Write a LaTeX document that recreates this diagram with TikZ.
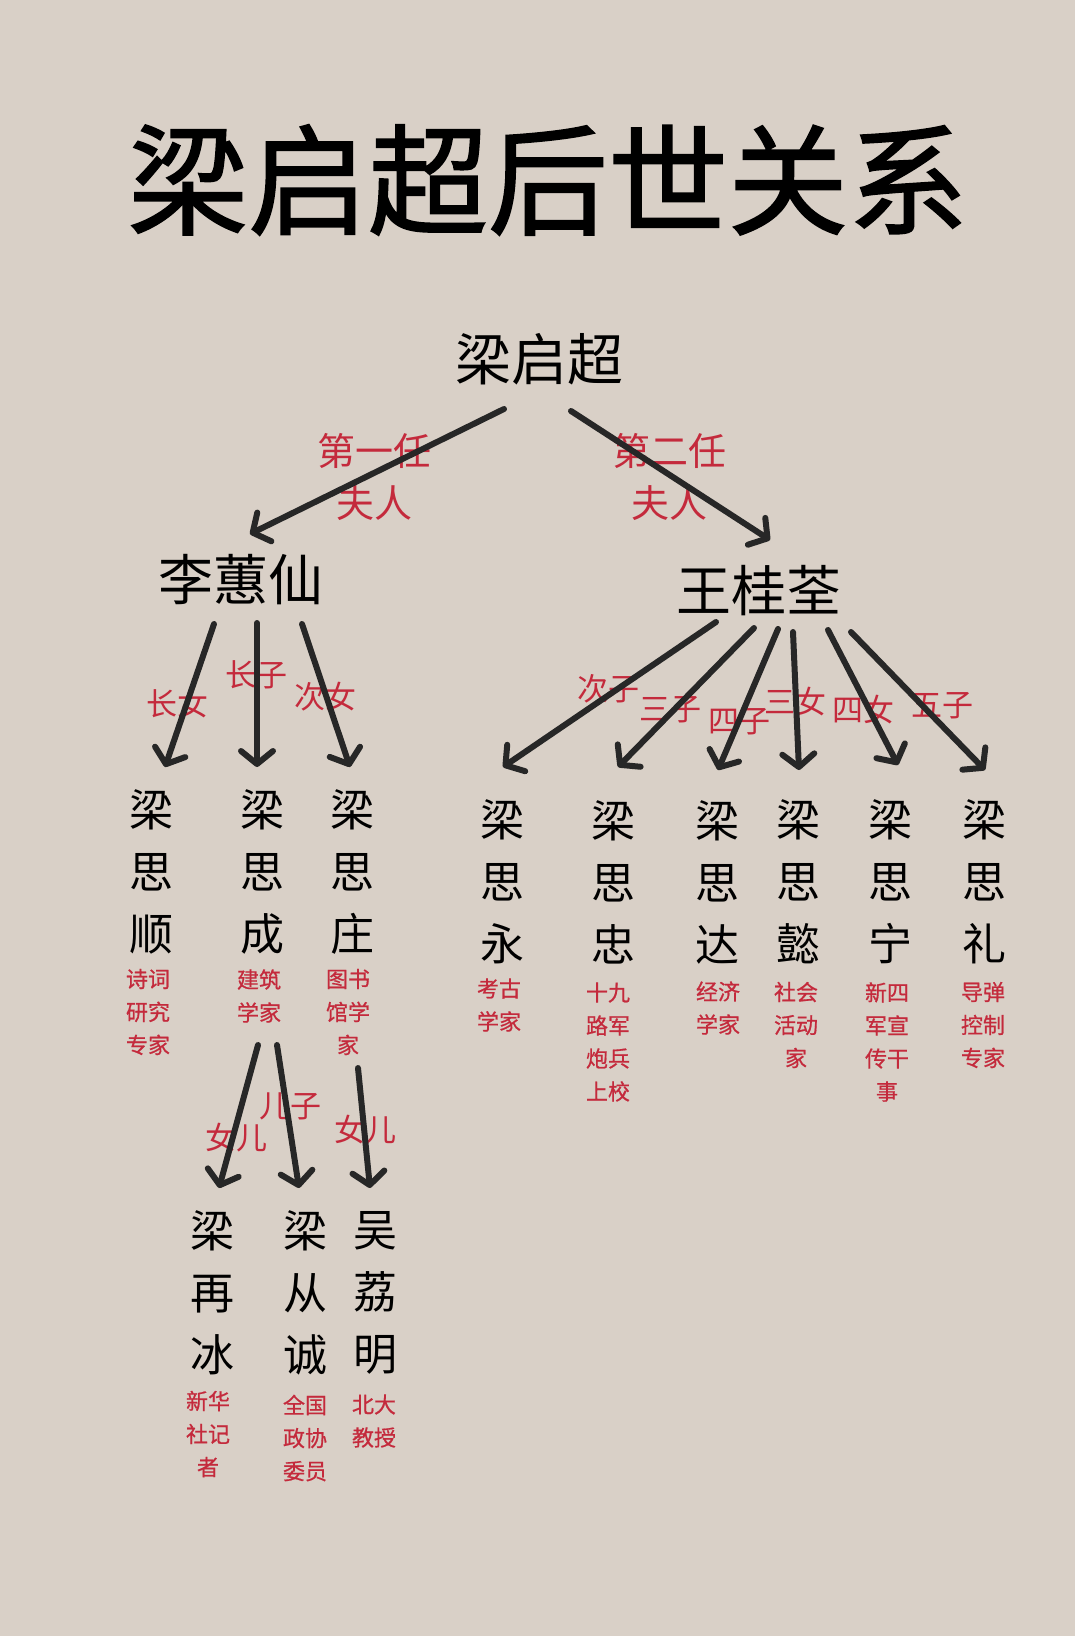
\documentclass[tikz,border=0pt]{standalone}
\usepackage{fontspec}
\setmainfont{Noto Sans CJK SC}
\newfontfamily\titlefont[FakeBold=1.4]{Noto Sans CJK SC}
\newfontfamily\redfont[FakeBold=0.7]{Noto Sans CJK SC}
\usetikzlibrary{arrows.meta}
\definecolor{paper}{HTML}{D9D0C7}
\definecolor{ink}{HTML}{272727}
\definecolor{redtxt}{HTML}{C42A3C}

\begin{document}
\begin{tikzpicture}[x=1pt, y=-1pt,
  name node/.style={font=\fontsize{44}{62}\selectfont, align=center, inner sep=0pt, text=black},
  job node/.style={font=\redfont\fontsize{22}{33}\selectfont, align=center, inner sep=0pt, text=redtxt},
  tag node/.style={font=\fontsize{31}{52}\selectfont, align=center, inner sep=0pt, text=redtxt},
  arr/.style={color=ink, line width=6pt, line cap=round, -{Straight Barb[round, length=13pt, width=32pt, line width=6pt]}}]

\useasboundingbox (0,0) rectangle (1075,1636);
\fill[paper] (0,0) rectangle (1075,1636);

% title
\node[inner sep=0pt] (title) at (548,180) {\titlefont\fontsize{120}{120}\selectfont 梁启超后世关系};

% top
\node[inner sep=0pt, font=\fontsize{56}{60}\selectfont] (n0) at (539,359) {梁启超};

% wives
\node[inner sep=0pt, font=\fontsize{55}{60}\selectfont] (n1) at (241,580) {李蕙仙};
\node[inner sep=0pt, font=\fontsize{55}{60}\selectfont] (n2) at (759,591) {王桂荃};

% children of n1
\node[name node] (n3) at (151,872) {梁\\思\\顺};
\node[name node] (n4) at (262,872) {梁\\思\\成};
\node[name node] (n5) at (352,872) {梁\\思\\庄};

% children of n2
\node[name node] (n6) at (502,882) {梁\\思\\永};
\node[name node] (n7) at (613,882) {梁\\思\\忠};
\node[name node] (n8) at (717,882) {梁\\思\\达};
\node[name node] (n9) at (798,882) {梁\\思\\懿};
\node[name node] (n10) at (890,882) {梁\\思\\宁};
\node[name node] (n11) at (984,882) {梁\\思\\礼};

% grandchildren
\node[name node] (n12) at (212,1293) {梁\\再\\冰};
\node[name node] (n13) at (305,1293) {梁\\从\\诚};
\node[name node] (n14) at (375,1293) {吴\\荔\\明};

% jobs
\node[job node] (j3) at (148,1012) {诗词\\研究\\专家};
\node[job node] (j4) at (259,996) {建筑\\学家};
\node[job node] (j5) at (348,1012) {图书\\馆学\\家};
\node[job node] (j6) at (499,1005) {考古\\学家};
\node[job node] (j7) at (608,1042) {十九\\路军\\炮兵\\上校};
\node[job node] (j8) at (718,1008) {经济\\学家};
\node[job node] (j9) at (796,1025) {社会\\活动\\家};
\node[job node] (j10) at (887,1042) {新四\\军宣\\传干\\事};
\node[job node] (j11) at (983,1025) {导弹\\控制\\专家};
\node[job node] (j12) at (208,1434) {新华\\社记\\者};
\node[job node] (j13) at (305,1438) {全国\\政协\\委员};
\node[job node] (j14) at (374,1421) {北大\\教授};

% relation tags
\node[tag node, font=\fontsize{38}{52}\selectfont] (r1) at (374,477) {第一任\\夫人};
\node[tag node, font=\fontsize{38}{52}\selectfont] (r2) at (669,477) {第二任\\夫人};
\node[tag node] (r3) at (177,704) {长女};
\node[tag node] (r4) at (256,675) {长子};
\node[tag node] (r5) at (325,697) {次女};
\node[tag node] (r6) at (608,689) {次子};
\node[tag node] (r7) at (670,710) {三子};
\node[tag node] (r8) at (739,722) {四子};
\node[tag node] (r9) at (795,702) {三女};
\node[tag node] (r10) at (863,710) {四女};
\node[tag node] (r11) at (942,706) {五子};
\node[tag node] (r12) at (236,1138) {女儿};
\node[tag node] (r13) at (290,1106) {儿子};
\node[tag node] (r14) at (365,1130) {女儿};

% arrow ends
\coordinate (s1) at (504,409);   \coordinate (t1) at (250,534);
\coordinate (s2) at (571,411);   \coordinate (t2) at (770,540);
\coordinate (s3) at (214,624);   \coordinate (t3) at (165,767);
\coordinate (s4) at (257,623);   \coordinate (t4) at (257,767);
\coordinate (s5) at (302,624);   \coordinate (t5) at (350,767);
\coordinate (s6) at (716,622);   \coordinate (t6) at (503,767);
\coordinate (s7) at (754,628);   \coordinate (t7) at (618,767);
\coordinate (s8) at (778,629);   \coordinate (t8) at (718,770);
\coordinate (s9) at (793,632);   \coordinate (t9) at (799,770);
\coordinate (s10) at (828,630);  \coordinate (t10) at (898,765);
\coordinate (s11) at (851,632);  \coordinate (t11) at (985,770);
\coordinate (s12) at (258,1045); \coordinate (t12) at (219,1188);
\coordinate (s13) at (277,1045); \coordinate (t13) at (299,1188);
\coordinate (s14) at (358,1068); \coordinate (t14) at (370,1188);

\path[]
% n0 -> wives
(s1) [arr] edge node [] {} (t1)
(s2) [arr] edge node [] {} (t2)

% n1 -> children
(s3) [arr] edge node [] {} (t3)
(s4) [arr] edge node [] {} (t4)
(s5) [arr] edge node [] {} (t5)

% n2 -> children
(s6) [arr] edge node [] {} (t6)
(s7) [arr] edge node [] {} (t7)
(s8) [arr] edge node [] {} (t8)
(s9) [arr] edge node [] {} (t9)
(s10) [arr] edge node [] {} (t10)
(s11) [arr] edge node [] {} (t11)

% n4, n5 -> grandchildren
(s12) [arr] edge node [] {} (t12)
(s13) [arr] edge node [] {} (t13)
(s14) [arr] edge node [] {} (t14)
;

\end{tikzpicture}
\end{document}
